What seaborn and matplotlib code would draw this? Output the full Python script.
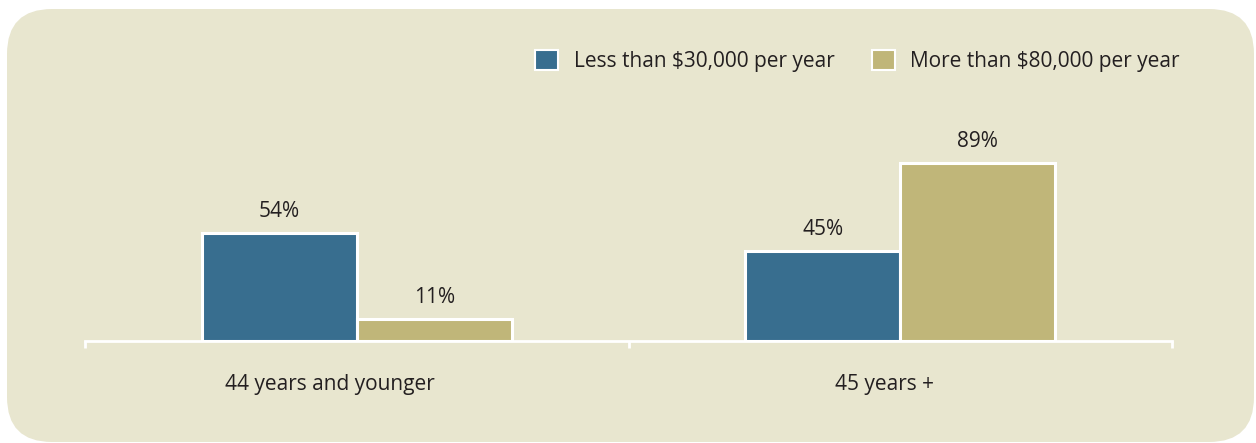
import matplotlib
matplotlib.use("Agg")
import matplotlib.pyplot as plt
import matplotlib.transforms as mtransforms
from matplotlib.patches import FancyBboxPatch, Patch
import pandas as pd
import seaborn as sns

# Data
age_groups = ["44 years and younger", "45 years +"]
income_groups = ["Less than $30,000 per year", "More than $80,000 per year"]
low_income_pct = [54, 45]
high_income_pct = [11, 89]

BLUE = "#386E8F"
TAN = "#C0B679"
PANEL = "#E8E6CF"
TEXT = "#231F20"
FS = 15

df = pd.DataFrame({
    "age": age_groups * 2,
    "income": [income_groups[0]] * 2 + [income_groups[1]] * 2,
    "pct": low_income_pct + high_income_pct,
})

sns.set_theme(style="white")
plt.rcParams["font.family"] = ["Open Sans", "DejaVu Sans"]

W, H, DPI = 1256, 443, 100
fig = plt.figure(figsize=(W / DPI, H / DPI), dpi=DPI, facecolor="white")

# Rounded panel behind the chart (pixel coordinates)
panel = FancyBboxPatch((7, 1), 1247, 433,
                       boxstyle="round,pad=0,rounding_size=45",
                       transform=None, facecolor=PANEL, edgecolor="none",
                       zorder=-5)
fig.patches.append(panel)

ax_left, ax_right = 85 / W, 1172 / W
ax_bottom, ax_top = (H - 341) / H, (H - 141) / H
ax = fig.add_axes([ax_left, ax_bottom, ax_right - ax_left, ax_top - ax_bottom])
ax.set_facecolor("none")
ax.set_zorder(2)

sns.barplot(data=df, x="age", y="pct", hue="income", order=age_groups,
            hue_order=income_groups, palette=[BLUE, TAN], saturation=1,
            width=0.57, edgecolor="white", linewidth=2.2, legend=False, ax=ax)

for container in ax.containers:
    ax.bar_label(container, labels=[f"{v:.0f}%" for v in container.datavalues],
                 padding=8, fontsize=FS, color=TEXT)

ax.set_xlim(-0.5, 1.5)
ax.set_ylim(0, 100)
ax.set_xlabel("")
ax.set_ylabel("")
ax.set_yticks([])
for side in ["top", "left", "right"]:
    ax.spines[side].set_visible(False)
ax.spines["bottom"].set_color("white")
ax.spines["bottom"].set_linewidth(2)

ax.set_xticks([-0.5, 0.5, 1.5], minor=True)
ax.tick_params(axis="x", which="minor", length=5, width=2, color="white",
               direction="out", bottom=True)
ax.tick_params(axis="x", which="major", length=0, pad=24, labelsize=FS,
               labelcolor=TEXT)
# Category labels sit slightly left of their group centres
for lbl, dx in zip(ax.get_xticklabels(), [-27, -16]):
    shift = mtransforms.ScaledTranslation(dx / DPI, 0, fig.dpi_scale_trans)
    lbl.set_transform(lbl.get_transform() + shift)

handles = [Patch(facecolor=c, edgecolor="white", linewidth=1.5, label=l)
           for c, l in zip([BLUE, TAN], income_groups)]
fig.legend(handles=handles, loc="upper right",
           bbox_to_anchor=(1180 / W, (H - 50) / H), ncol=2, frameon=False,
           fontsize=FS, labelcolor=TEXT, handlelength=1.1, handleheight=1.1,
           handletextpad=0.75, columnspacing=1.8, borderpad=0, borderaxespad=0)

fig.savefig("out.png", dpi=DPI, facecolor="white")
